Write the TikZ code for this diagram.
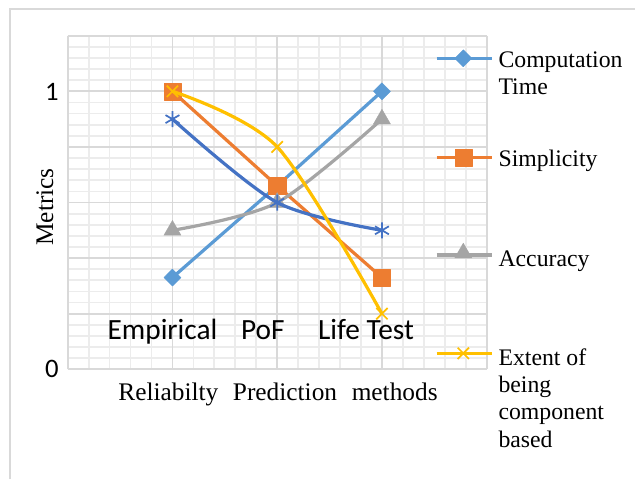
\documentclass[tikz,border=0pt]{standalone}
\usepackage{fontspec}
\setmainfont{Liberation Serif}
\newfontfamily\calfont{Carlito}
\usetikzlibrary{plotmarks}
\definecolor{cblue}{HTML}{5B9BD5}
\definecolor{corange}{HTML}{ED7D31}
\definecolor{cgray}{HTML}{A5A5A5}
\definecolor{cyellow}{HTML}{FFC000}
\definecolor{cdblue}{HTML}{4472C4}
\definecolor{gridmajor}{HTML}{D9D9D9}
\definecolor{gridminor}{HTML}{ECECEC}
\tikzset{
  minorgrid/.style={draw=gridminor, line width=1.3pt},
  majorgrid/.style={draw=gridmajor, line width=1.3pt},
  series/.style={line width=2.4pt, line join=round},
  ctstyle/.style={series, draw=cblue, mark=diamond*, mark size=6.4pt,
     mark options={solid, fill=cblue, draw=cblue, line width=0.3pt, xscale=1.33}},
  simpstyle/.style={series, draw=corange, mark=square*, mark size=6.4pt,
     mark options={solid, fill=corange, draw=corange, line width=0.3pt}},
  accstyle/.style={series, draw=cgray, mark=triangle*, mark size=7.4pt,
     mark options={solid, fill=cgray, draw=cgray, line width=0.3pt}},
  dbstyle/.style={series, draw=cdblue, mark=asterisk, mark size=6pt,
     mark options={solid, draw=cdblue, line width=1.3pt}},
  ylstyle/.style={series, draw=cyellow, mark=x, mark size=6pt,
     mark options={solid, draw=cyellow, line width=1.3pt}},
  legtext/.style={anchor=base west, inner sep=0pt, font=\fontsize{17.8}{20.5}\selectfont},
  cattext/.style={anchor=base, inner sep=0pt, font=\calfont\fontsize{22}{26}\selectfont},
  ticktext/.style={anchor=east, inner sep=0pt, font=\calfont\fontsize{20}{24}\selectfont},
  axtext/.style={anchor=base, inner sep=0pt, font=\fontsize{19}{22}\selectfont},
}
\begin{document}
\begin{tikzpicture}[x=0.75pt,y=-0.75pt]
\useasboundingbox (0,0) rectangle (635,479);
\fill[white] (0,0) rectangle (635,479);
\draw[gridmajor, line width=1.2pt] (10,479) -- (10,9) -- (635,9);

\begin{scope}[shift={(67.7,369.3)}, x=78.5625pt, y=208.5pt]
  % minor grid
  \foreach \i in {1,...,19} \draw[minorgrid] ({\i*0.2},0) -- ({\i*0.2},1.2);
  \foreach \j in {1,...,29} \draw[minorgrid] (0,{\j*0.04}) -- (4,{\j*0.04});
  % major grid
  \foreach \i in {0,...,4} \draw[majorgrid] (\i,0) -- (\i,1.2);
  \foreach \j in {0,...,6} \draw[majorgrid] (0,{\j*0.2}) -- (4,{\j*0.2});
  % series
  \draw[ctstyle] plot coordinates {(1,0.33) (2,0.66) (3,1)};
  \draw[simpstyle] plot coordinates {(1,1) (2,0.66) (3,0.33)};
  \draw[accstyle] plot[smooth, tension=0.5] coordinates {(1,0.5) (2,0.6) (3,0.9)};
  \draw[dbstyle] plot[smooth, tension=0.5] coordinates {(1,0.9) (2,0.6) (3,0.5)};
  \draw[ylstyle] plot[smooth, tension=0.5] coordinates {(1,1) (2,0.8) (3,0.2)};
\end{scope}

% axis tick labels
\node[ticktext] (t1) at (59,91.5) {1};
\node[ticktext] (t0) at (59,368.5) {0};
% category labels
\node[cattext] (c1) at (162.5,339) {Empirical};
\node[cattext] (c2) at (262.8,339) {PoF};
\node[cattext] (c3) at (366,339) {Life Test};
% axis titles
\node[axtext, rotate=90] (ytitle) at (53,207) {Metrics};
\node[axtext] (xtitle) at (278,400) {Reliabilty\hspace{11pt}Prediction\hspace{11pt}methods};

% legend
\coordinate (l1a) at (436.7,58.3); \coordinate (l1b) at (491.7,58.3);
\draw[series, draw=cblue] (l1a) -- (l1b);
\draw[ctstyle] plot coordinates {(463.3,58.3)};
\node[legtext] (lt1) at (498.3,67) {\begin{tabular}[t]{@{}l@{}}Computation\\Time\end{tabular}};

\coordinate (l2a) at (436.7,157.3); \coordinate (l2b) at (491.7,157.3);
\draw[series, draw=corange] (l2a) -- (l2b);
\draw[simpstyle] plot coordinates {(463.3,157.3)};
\node[legtext] (lt2) at (498.3,166.5) {Simplicity};

\coordinate (l3a) at (436.7,255); \coordinate (l3b) at (491.7,255);
\draw[series, draw=cgray] (l3a) -- (l3b);
\draw[accstyle] plot coordinates {(463.3,253)};
\node[legtext] (lt3) at (498.3,266) {Accuracy};

\coordinate (l4a) at (436.7,353.3); \coordinate (l4b) at (491.7,353.3);
\draw[series, draw=cyellow] (l4a) -- (l4b);
\draw[ylstyle] plot coordinates {(463.3,353.3)};
\node[legtext] (lt4) at (498.3,365) {\begin{tabular}[t]{@{}l@{}}Extent of\\being\\component\\based\end{tabular}};
\end{tikzpicture}
\end{document}
